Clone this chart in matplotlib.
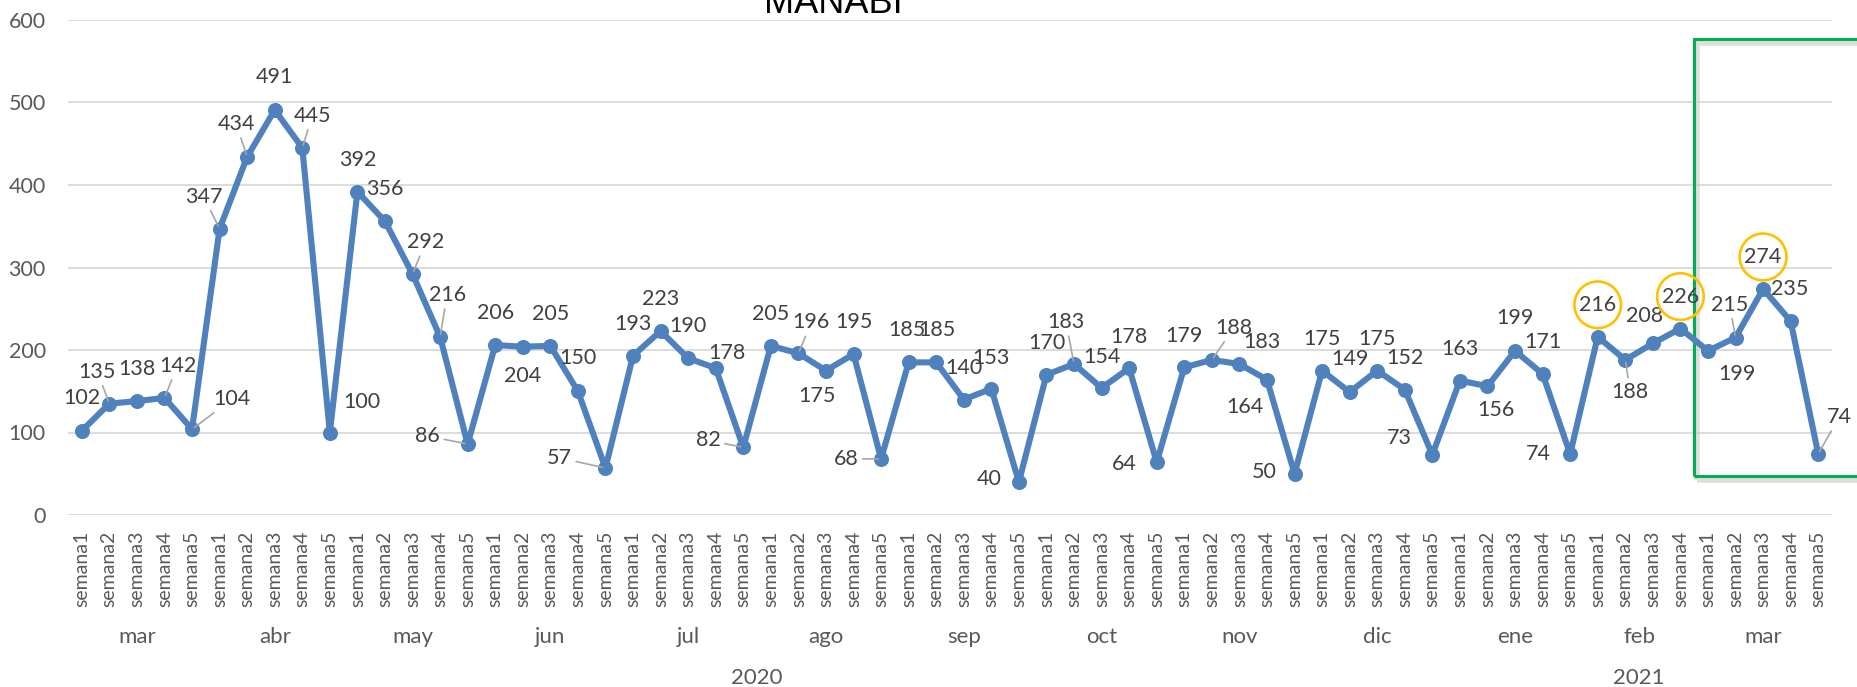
import matplotlib
matplotlib.use("Agg")
import matplotlib.pyplot as plt
from matplotlib.patches import Rectangle
from matplotlib.transforms import offset_copy

# ---------------- data ----------------
months = ["mar", "abr", "may", "jun", "jul", "ago", "sep", "oct", "nov", "dic",
          "ene", "feb", "mar"]
weeks_per_month = [5, 5, 5, 5, 5, 5, 5, 5, 5, 5, 5, 4, 5]
years = ["2020", "2021"]
months_per_year = [10, 3]

values = [102, 135, 138, 142, 104,
          347, 434, 491, 445, 100,
          392, 356, 292, 216, 86,
          206, 204, 205, 150, 57,
          193, 223, 190, 178, 82,
          205, 196, 175, 195, 68,
          185, 185, 140, 153, 40,
          170, 183, 154, 178, 64,
          179, 188, 183, 164, 50,
          175, 149, 175, 152, 73,
          163, 156, 199, 171, 74,
          216, 188, 208, 226,
          199, 215, 274, 235, 74]

week_labels = []
for n in weeks_per_month:
    week_labels += [f"semana{k+1}" for k in range(n)]

circled = [55, 58, 61]          # labels highlighted with a yellow circle
highlight_start = 58.5          # green frame around last month
frame_bottom, frame_top = 47, 577

# label offsets (pixels, +y downward) for the data labels
label_offsets = [(0, -33), (-12, -32), (0, -32), (13, -32), (40, -30),
                 (-16, -32), (-11, -33), (0, -33), (10, -32), (32, -30),
                 (0, -32), (0, -32), (13, -32), (7, -42), (-40, -8),
                 (0, -32), (0, 29), (0, -32), (0, -33), (-46, -10),
                 (0, -32), (0, -32), (0, -32), (11, -15), (-35, -7),
                 (0, -32), (13, -31), (-9, 25), (0, -32), (-35, 0),
                 (-2, -32), (1, -32), (0, -32), (0, -31), (-30, -3),
                 (0, -32), (-8, -42), (0, -31), (0, -31), (-32, 2),
                 (0, -31), (22, -32), (23, -22), (-22, 27), (-30, -2),
                 (0, -32), (0, -33), (0, -32), (0, -32), (-33, -17),
                 (0, -32), (8, 24), (0, -33), (0, -32), (-32, 0),
                 (0, -32), (5, 32), (-8, -27), (0, -32), (29, 23),
                 (-6, -33), (0, -32), (-1, -32), (21, -37)]
leaders = [1, 3, 4, 5, 6, 8, 12, 13, 14, 19, 24, 26, 29, 36, 41, 56, 60, 63]

# ---------------- figure ----------------
W, H = 1858, 687
fig = plt.figure(figsize=(W / 100, H / 100), dpi=100)
fig.patch.set_facecolor("white")
ax = fig.add_axes([68 / W, 1 - 515 / H, (1832 - 68) / W, (515 - 20) / H])

FONT = "Lato"
TXT = "#404040"
TICK = "#595959"

x = list(range(len(values)))
ax.plot(x, values, color="#4F81BD", lw=4.4, marker="o", ms=9.8,
        markerfacecolor="#4F81BD", markeredgecolor="#4F81BD", zorder=3,
        solid_joinstyle="round")

ax.set_xlim(-0.5, len(values) - 0.5)
ax.set_ylim(0, 600)
ax.set_yticks(range(0, 601, 100))
ax.yaxis.grid(True, color="#D9D9D9", lw=1.3)
ax.set_axisbelow(True)
for s in ax.spines.values():
    s.set_visible(False)
ax.tick_params(axis="both", length=0)
ax.tick_params(axis="y", pad=16, labelsize=15.5, labelcolor=TICK)
for t in ax.get_yticklabels():
    t.set_fontfamily(FONT)

ax.set_xticks(x)
ax.set_xticklabels(week_labels, rotation=90, fontsize=14, color=TICK,
                   family=FONT, va="top")
ax.tick_params(axis="x", pad=11)

# month labels
tr = ax.get_xaxis_transform()
start = 0
for m, n in zip(months, weeks_per_month):
    ax.text(start + (n - 1) / 2, -0.2465, m, transform=tr, ha="center",
            va="center", fontsize=16, color=TICK, family=FONT)
    start += n
# year labels
start = 0
mi = 0
for y, nm in zip(years, months_per_year):
    n = sum(weeks_per_month[mi:mi + nm])
    ax.text(start + (n - 1) / 2, -0.329, y, transform=tr, ha="center",
            va="center", fontsize=16, color=TICK, family=FONT)
    start += n
    mi += nm

# data labels
for i, v in enumerate(values):
    dx, dy = label_offsets[i]
    kw = {}
    if i in leaders:
        kw["arrowprops"] = dict(arrowstyle="-", color="#A6A6A6", lw=1.2,
                                shrinkA=1, shrinkB=2)
    if i in circled:
        kw["bbox"] = dict(boxstyle="circle,pad=0.22", fc="none",
                          ec="#FFC000", lw=1.9)
    ax.annotate(str(v), xy=(i, v), xytext=(dx, -dy), textcoords="offset pixels",
                ha="center", va="center", fontsize=15.5, color=TXT, family=FONT,
                zorder=5, **kw)

# green frame with soft shadow
shadow = Rectangle((highlight_start, frame_bottom), 30, frame_top - frame_bottom,
                   fill=False, edgecolor="#C8C8C8", lw=4, alpha=0.6,
                   clip_on=False, zorder=1)
shadow.set_transform(offset_copy(ax.transData, fig=fig, x=3, y=-4, units="dots"))
ax.add_patch(shadow)
ax.add_patch(Rectangle((highlight_start, frame_bottom), 30, frame_top - frame_bottom,
                       fill=False, edgecolor="#00B050", lw=2.2, clip_on=False,
                       zorder=2))

# title (cut off at top as in the reference)
fig.text(833 / W, 1 - 13 / H, "MANABI", ha="center", va="baseline",
         fontsize=26, color="#000000", family="Liberation Sans")

fig.savefig("out.png", dpi=100)
